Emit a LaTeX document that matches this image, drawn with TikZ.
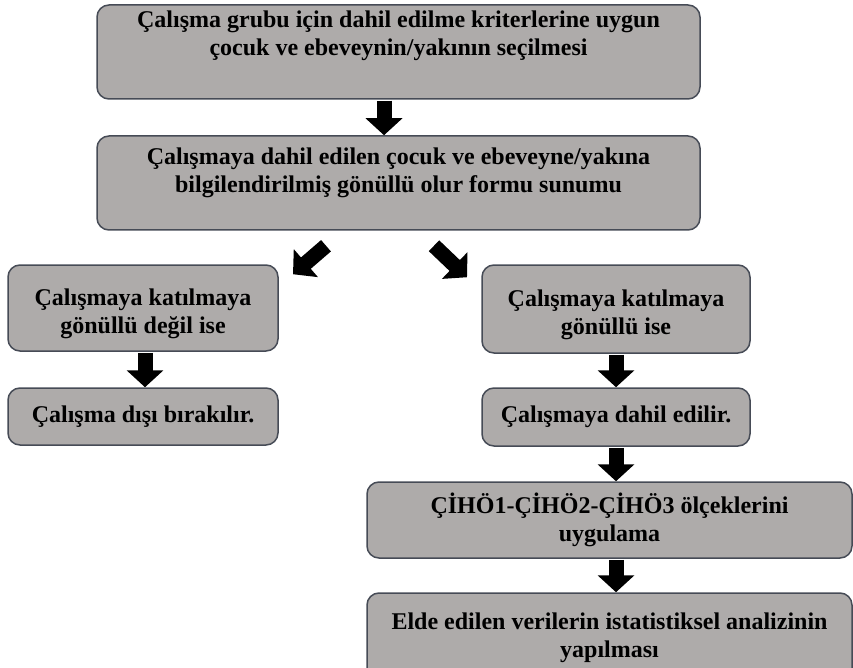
\documentclass[tikz,border=0pt]{standalone}
\usepackage{fontspec}
\setmainfont{Liberation Serif}
\usepackage{tikz}
\usetikzlibrary{positioning,arrows.meta}

\definecolor{boxfill}{RGB}{174,171,170}
\definecolor{boxline}{RGB}{70,75,86}

% text set at the top of a tall box; #1 = height of the text area
\newcommand{\toptext}[2]{\parbox[c][#1][t]{600pt}{\centering #2}}
\newcommand{\lowstrut}{\rule{0pt}{29pt}}

\tikzset{
  stepbox/.style={draw=boxline, fill=boxfill, line width=1.5pt, rounded corners=12pt,
    align=center, inner sep=0pt, font=\bfseries\fontsize{24}{28}\selectfont},
  blockarrow/.style={line width=15pt, -{Triangle[width=36pt,length=17pt]}}
}

\begin{document}
\begin{tikzpicture}[x=1pt,y=-1pt,on grid]
    \useasboundingbox (0,0) rectangle (853,668);
    \node[stepbox,minimum width=603pt,minimum height=94pt] (secim) at (398.5,52)
        {\toptext{82pt}{Çalışma grubu için dahil edilme kriterlerine uygun\\ çocuk ve ebeveynin/yakının seçilmesi}};
    \node[stepbox,minimum width=603pt,minimum height=94pt] (onam) [below=131pt of secim]
        {\toptext{70pt}{Çalışmaya dahil edilen çocuk ve ebeveyne/yakına\\ bilgilendirilmiş gönüllü olur formu sunumu}};
    \node[stepbox,minimum width=270pt,minimum height=86pt] (hayir) [below left=125pt and 255.5pt of onam]
        {\lowstrut Çalışmaya katılmaya\\ gönüllü değil ise};
    \node[stepbox,minimum width=270pt,minimum height=57pt] (disi) [below=108.5pt of hayir]
        {Çalışma dışı bırakılır.};
    \node[stepbox,minimum width=268pt,minimum height=88pt] (evet) [below right=126pt and 217.5pt of onam]
        {\lowstrut Çalışmaya katılmaya\\ gönüllü ise};
    \node[stepbox,minimum width=268pt,minimum height=58pt] (dahil) [below=108pt of evet]
        {Çalışmaya dahil edilir.};
    \node[stepbox,minimum width=485pt,minimum height=76pt] (olcek) [below=103pt of dahil, xshift=-6.5pt]
        {ÇİHÖ1-ÇİHÖ2-ÇİHÖ3 ölçeklerini\\ uygulama};
    \node[stepbox,minimum width=485pt,minimum height=90pt] (analiz) [below=118pt of olcek]
        {Elde edilen verilerin istatistiksel analizinin\\ yapılması};

    % block arrows
    \draw[blockarrow] ([xshift=-14.5pt,yshift=-1pt]secim.south) -- ([xshift=-14.5pt]onam.north);
    \draw[blockarrow] ([xshift=-72.5pt,yshift=-15pt]onam.south) -- ([xshift=150pt,yshift=-10pt]hayir.north);
    \draw[blockarrow] ([xshift=35.5pt,yshift=-15pt]onam.south) -- ([xshift=-149pt,yshift=-13pt]evet.north);
    \draw[blockarrow] ([xshift=2pt,yshift=-1pt]hayir.south) -- ([xshift=2pt]disi.north);
    \draw[blockarrow] ([yshift=-1pt]evet.south) -- (dahil.north);
    \draw[blockarrow] ([yshift=-1pt]dahil.south) -- ([xshift=6.5pt]olcek.north);
    \draw[blockarrow] ([xshift=6.5pt,yshift=-1pt]olcek.south) -- ([xshift=6.5pt]analiz.north);
\end{tikzpicture}
\end{document}
